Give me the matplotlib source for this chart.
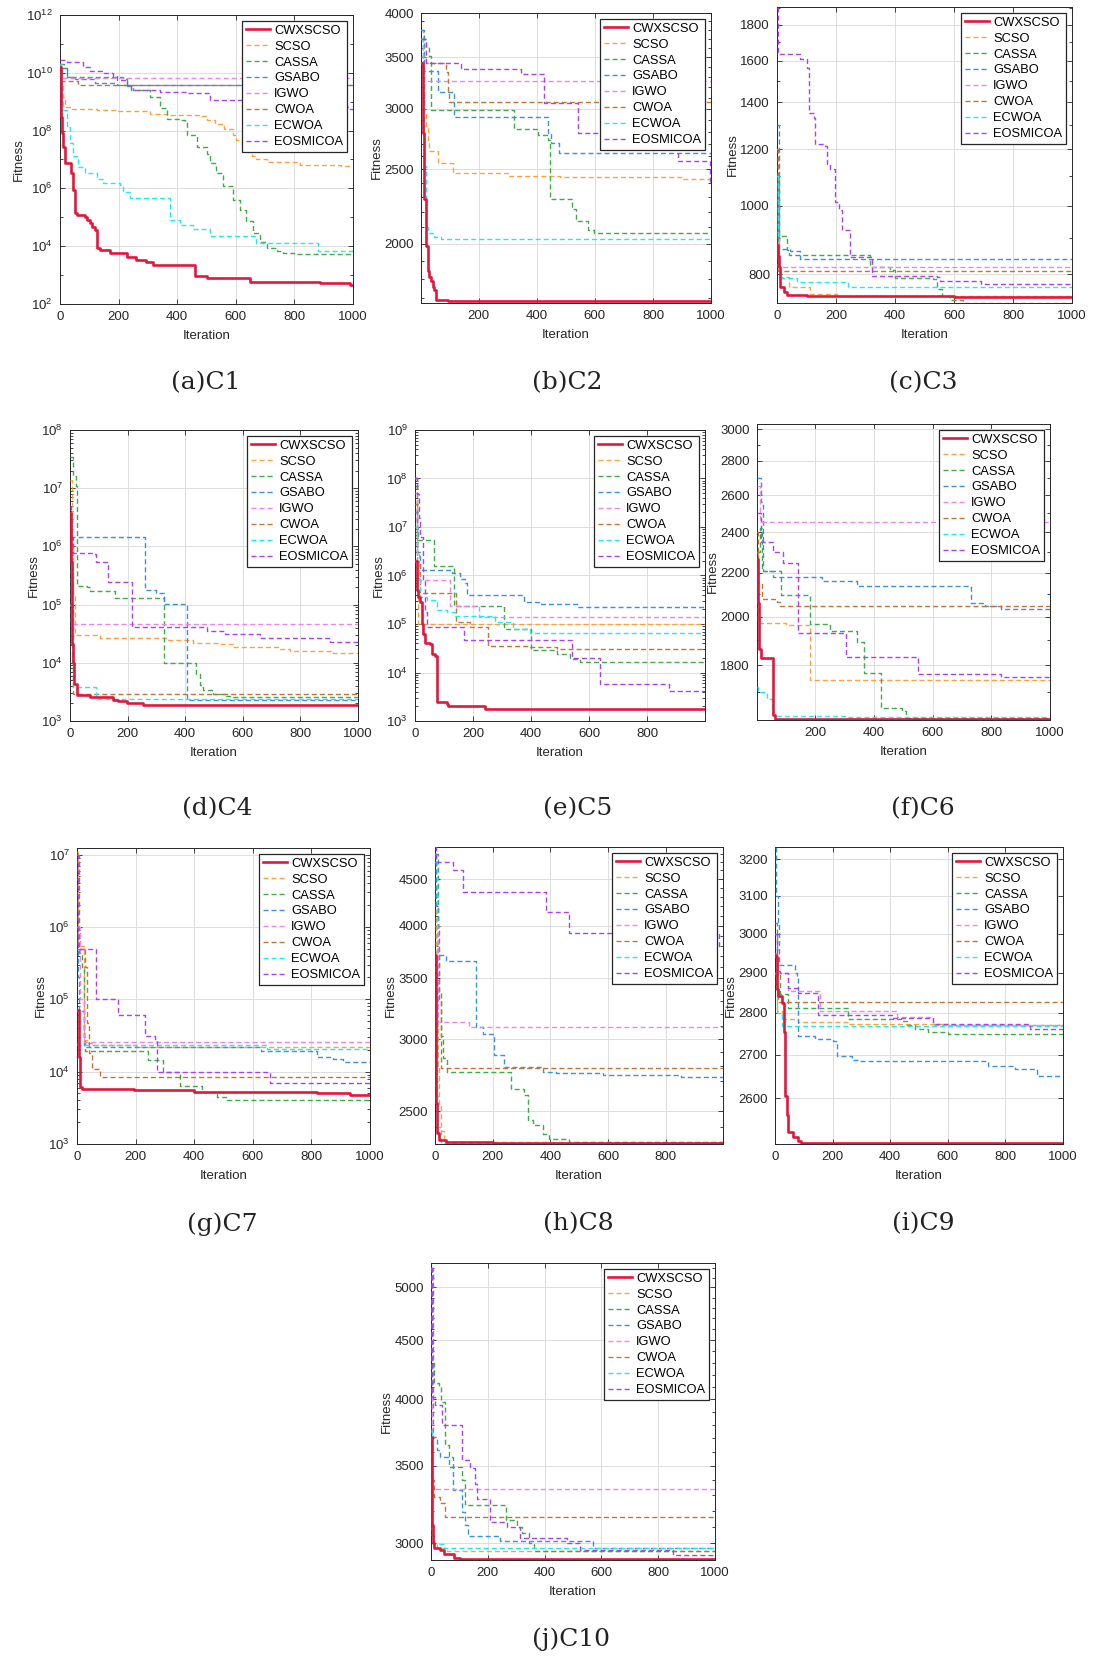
import matplotlib
matplotlib.use("Agg")
import matplotlib.pyplot as plt
from matplotlib.ticker import FixedLocator, NullFormatter, FuncFormatter

plt.rcParams['font.family'] = ['Liberation Sans', 'DejaVu Sans']
plt.rcParams['lines.scale_dashes'] = False

# ---------------- data ----------------
ALGOS = ["CWXSCSO", "SCSO", "CASSA", "GSABO", "IGWO", "CWOA", "ECWOA", "EOSMICOA"]
COLORS = ["#E2173B", "#FF9F3F", "#3DAB48", "#3A8EE6", "#EE82EE", "#C87137", "#1EEBF0", "#A641F5"]

# each series: (iteration where value starts, best fitness)
C1 = {
    "CWXSCSO": ([0, 2, 5, 8, 11, 17, 36, 45, 51, 57, 85, 91, 102, 110, 119, 125, 136, 170, 227, 261, 295, 318, 460, 500, 648, 886, 990],
                [1.6e10, 3e9, 3e8, 8e7, 2.7e7, 7.4e6, 3.3e6, 8.8e5, 1.4e5, 1.2e5, 1.05e5, 8.1e4, 6.2e4, 4.5e4, 3.6e4, 8.5e3, 7.4e3, 5.7e3, 4.3e3, 3.3e3, 2.9e3, 2.2e3, 9.3e2, 7.7e2, 5.9e2, 5.2e2, 4.6e2]),
    "SCSO": ([0, 4, 10, 18, 40, 125, 193, 307, 364, 480, 500, 530, 560, 590, 602, 620, 636, 655, 670, 705, 818, 960],
             [2e10, 4e9, 1.5e9, 6.8e8, 5.5e8, 5e8, 4.6e8, 3.8e8, 3.4e8, 3.2e8, 2.3e8, 1.7e8, 1.1e8, 7.2e7, 4.7e7, 3e7, 1.9e7, 1.3e7, 1e7, 8e6, 6.5e6, 5.8e6]),
    "CASSA": ([0, 12, 25, 215, 227, 250, 307, 340, 364, 410, 426, 432, 466, 500, 511, 534, 557, 590, 614, 636, 659, 682, 705, 739, 761, 800],
              [2e10, 1.5e10, 7.4e9, 6e9, 3.4e9, 2.6e9, 1.5e9, 6e8, 2.6e8, 2.3e8, 1.8e8, 7e7, 2.8e7, 1.6e7, 7.5e6, 3.3e6, 1.2e6, 4e5, 1.8e5, 7.2e4, 2.8e4, 1.4e4, 8.6e3, 6.6e3, 5.8e3, 5.5e3]),
    "GSABO": ([0, 23, 50, 120, 193], [1.5e10, 7.4e9, 6e9, 4.6e9, 3.9e9]),
    "IGWO": ([0, 5], [2e10, 6.5e9]),
    "CWOA": ([0, 3, 62], [1e10, 5.3e9, 3.8e9]),
    "ECWOA": ([0, 3, 6, 11, 23, 34, 45, 62, 85, 125, 148, 205, 216, 239, 377, 409, 455, 511, 670, 880],
              [2e10, 5e9, 1.5e9, 5e8, 1.4e8, 3.7e7, 1.3e7, 5.7e6, 3.3e6, 2.2e6, 1.5e6, 1.3e6, 7.8e5, 4.5e5, 8.3e4, 5.6e4, 4e4, 2.2e4, 1.3e4, 6.9e3]),
    "EOSMICOA": ([0, 23, 80, 102, 148, 182, 193, 227, 244, 341, 432, 511, 636, 990],
                 [2.8e10, 2.4e10, 1.6e10, 1.2e10, 9.6e9, 7.7e9, 5.7e9, 3.8e9, 2.6e9, 2.2e9, 2e9, 1.15e9, 6.8e8, 5.5e8]),
}
C2 = {
    "CWXSCSO": ([1, 7, 13, 19, 24, 30, 36, 42, 47, 53, 93], [3440, 2790, 2290, 1985, 1840, 1810, 1790, 1755, 1740, 1690, 1685]),
    "SCSO": ([1, 8, 13, 19, 24, 30, 59, 110, 300, 480, 900], [3800, 3300, 2970, 2850, 2710, 2640, 2550, 2470, 2450, 2440, 2430]),
    "CASSA": ([1, 19, 30, 36, 323, 403, 438, 447, 520, 535, 576, 598], [3700, 3610, 3510, 2990, 2820, 2770, 2730, 2290, 2220, 2140, 2085, 2065]),
    "GSABO": ([1, 13, 59, 116, 438, 449, 478], [3800, 3360, 3150, 2930, 2790, 2710, 2625]),
    "IGWO": ([1, 8], [3700, 3260]),
    "CWOA": ([1, 19, 88, 93, 99], [3500, 3440, 3350, 3150, 3060]),
    "ECWOA": ([1, 7, 13, 19, 24, 47, 70], [3700, 3400, 2525, 2100, 2065, 2040, 2030]),
    "EOSMICOA": ([1, 19, 139, 346, 424, 541, 790, 885, 995], [3700, 3440, 3380, 3330, 3050, 2790, 2660, 2560, 2400]),
}
C3 = {
    "CWXSCSO": ([0, 3, 6, 11, 23, 34, 101, 600], [880, 850, 820, 767, 755, 747, 745, 743]),
    "SCSO": ([0, 3, 6, 11, 39, 113, 203], [1200, 900, 820, 792, 768, 750, 745]),
    "CASSA": ([0, 6, 34, 39, 316, 383, 400, 530, 541, 558, 586, 631], [1100, 905, 867, 851, 820, 812, 790, 788, 764, 745, 735, 730]),
    "GSABO": ([0, 6, 45, 79], [1300, 870, 862, 842]),
    "IGWO": ([0, 3], [1100, 820]),
    "CWOA": ([0, 3], [1200, 809]),
    "ECWOA": ([0, 3, 6, 11, 68, 242], [1100, 900, 812, 790, 780, 767]),
    "EOSMICOA": ([0, 3, 79, 101, 107, 124, 130, 163, 169, 180, 197, 209, 220, 246, 321, 541, 552, 693],
                 [1900, 1636, 1610, 1563, 1350, 1330, 1220, 1215, 1143, 1125, 1012, 985, 923, 846, 797, 794, 784, 776]),
}
C4 = {
    "CWXSCSO": ([0, 3, 6, 9, 14, 23, 69, 150, 168, 197, 254], [3.7e6, 5.5e5, 2.1e4, 1e4, 4.4e3, 2.8e3, 2.6e3, 2.3e3, 2.2e3, 2.0e3, 1.9e3]),
    "SCSO": ([0, 6, 12, 17, 104, 335, 428, 520, 566, 728, 763, 913], [1.4e7, 1e6, 1.4e5, 3e4, 2.7e4, 2.5e4, 2.2e4, 2.1e4, 1.9e4, 1.75e4, 1.6e4, 1.45e4]),
    "CASSA": ([0, 12, 21, 25, 58, 69, 156, 327, 439, 451, 462, 497, 543, 566],
              [3.5e7, 1.6e7, 1.1e7, 2.1e5, 2e5, 1.7e5, 1.32e5, 1e4, 6.5e3, 4.1e3, 3.4e3, 2.9e3, 2.65e3, 2.55e3]),
    "GSABO": ([0, 4, 262, 300, 327, 405], [2e6, 1.46e6, 1.77e5, 1.6e5, 1.04e5, 2.3e3]),
    "IGWO": ([0, 2], [1e6, 4.7e4]),
    "CWOA": ([0, 10], [1e5, 2.95e3]),
    "ECWOA": ([0, 6, 9, 92], [1e5, 1e4, 3.85e3, 2.35e3]),
    "EOSMICOA": ([0, 5, 9, 81, 92, 133, 214, 474, 538, 659, 902], [5e6, 1.4e6, 7.6e5, 7.5e5, 5.4e5, 2.4e5, 4.1e4, 3.5e4, 3.1e4, 2.7e4, 2.3e4]),
}
C5 = {
    "CWXSCSO": ([0, 6, 12, 17, 23, 29, 35, 52, 58, 69, 77, 109, 115, 242],
                [2e6, 5e5, 3.6e5, 2.9e5, 1e5, 6.3e4, 4.1e4, 3.9e4, 2.45e4, 2.2e4, 2.46e3, 2.2e3, 2.0e3, 1.8e3]),
    "SCSO": ([0, 6, 12], [1e8, 5e5, 9.8e4]),
    "CASSA": ([0, 6, 12, 67, 136, 305, 399, 489, 535, 570], [1e8, 1e7, 5.4e6, 1.6e6, 2.4e5, 8e4, 2.9e4, 2.4e4, 1.9e4, 1.65e4]),
    "GSABO": ([0, 6, 17, 127, 155, 173, 178, 374, 432, 558], [2e7, 3e6, 1.28e6, 1.1e6, 8.6e5, 6.9e5, 3.9e5, 2.9e5, 2.6e5, 2.25e5]),
    "IGWO": ([0, 8, 15, 121, 219], [5e7, 3e6, 8e5, 2.4e5, 1.4e5]),
    "CWOA": ([0, 8, 17, 142, 190, 253, 397, 489], [3e7, 2e6, 4.4e5, 1.1e5, 8.7e4, 3.6e4, 3.3e4, 3.0e4]),
    "ECWOA": ([0, 6, 17, 40, 75, 109, 138, 276, 339, 397], [1e7, 1e6, 3.6e5, 3.2e5, 1.9e5, 1.8e5, 1.44e5, 1.1e5, 8e4, 6.5e4]),
    "EOSMICOA": ([0, 8, 15, 17, 29, 35, 40, 170, 541, 639, 875], [1e8, 4.9e7, 1.5e7, 6.3e6, 8e5, 1.8e5, 8.7e4, 4.6e4, 2e4, 5.7e3, 4.1e3]),
}
C6 = {
    "CWXSCSO": ([1, 6, 9, 14, 55, 63], [2265, 2062, 1866, 1830, 1618, 1603]),
    "SCSO": ([1, 6, 100, 181], [2300, 1974, 1965, 1745]),
    "CASSA": ([1, 11, 17, 83, 183, 251, 343, 366, 423, 497, 509], [2300, 2420, 2208, 2094, 1967, 1939, 1894, 1771, 1642, 1630, 1607]),
    "GSABO": ([1, 14, 23, 57, 223, 343, 731, 777, 834], [2700, 2560, 2208, 2177, 2160, 2137, 2058, 2045, 2034]),
    "IGWO": ([1, 11], [2650, 2453]),
    "CWOA": ([1, 6, 17, 69, 80], [2400, 2150, 2077, 2066, 2045]),
    "ECWOA": ([1, 6, 34, 51, 69, 300], [1720, 1700, 1676, 1620, 1614, 1610]),
    "EOSMICOA": ([1, 14, 57, 89, 141, 306, 549, 834], [2500, 2350, 2298, 2244, 1931, 1834, 1769, 1756]),
}
C7 = {
    "CWXSCSO": ([0, 6, 9, 17, 193, 307, 398, 648, 818, 932], [7.2e4, 1.6e4, 6.2e3, 5.7e3, 5.6e3, 5.5e3, 5.3e3, 5.2e3, 5.0e3, 4.8e3]),
    "SCSO": ([0, 3, 23, 34, 57, 200], [1.1e7, 5.4e5, 2.75e4, 2.5e4, 2.3e4, 2.2e4]),
    "CASSA": ([0, 6, 17, 23, 28, 244, 295, 352, 426, 477, 511], [1e7, 4.4e5, 2.6e5, 3e4, 1.9e4, 1.46e4, 1.0e4, 6.4e3, 5.3e3, 4.5e3, 4.1e3]),
    "GSABO": ([0, 2, 6, 23, 628, 818, 875, 909], [1e6, 2e5, 6.8e4, 2.2e4, 1.94e4, 1.58e4, 1.5e4, 1.35e4]),
    "IGWO": ([0, 11, 23], [1e6, 1e5, 2.53e4]),
    "CWOA": ([0, 17, 28, 34, 40, 51, 80], [5e5, 4.9e5, 2.8e5, 4.7e4, 1.8e4, 1.1e4, 8.5e3]),
    "ECWOA": ([0, 6, 648], [2.4e4, 2.3e4, 2.05e4]),
    "EOSMICOA": ([0, 3, 66, 139, 231, 267, 273, 657], [1e7, 5e5, 1e5, 6e4, 3.1e4, 2.8e4, 1e4, 6.9e3]),
}
C8 = {
    "CWXSCSO": ([0, 3, 7, 15, 38, 200], [3713, 2550, 2364, 2325, 2310, 2306]),
    "SCSO": ([0, 3, 9, 15, 21, 32, 200], [4800, 3500, 2800, 2540, 2375, 2312, 2309]),
    "CASSA": ([0, 9, 15, 21, 27, 41, 264, 310, 322, 339, 374, 397, 466],
              [4800, 3760, 3380, 3020, 2860, 2757, 2643, 2605, 2446, 2415, 2360, 2329, 2312]),
    "GSABO": ([0, 3, 9, 38, 142, 166, 206, 241, 374, 420, 582, 854],
              [4800, 4200, 3713, 3660, 3097, 3040, 2883, 2792, 2760, 2752, 2740, 2724]),
    "IGWO": ([0, 9, 119], [4000, 3136, 3097]),
    "CWOA": ([0, 15, 21], [4000, 3300, 2787]),
    "ECWOA": ([0, 7, 21], [4700, 2400, 2307]),
    "EOSMICOA": ([0, 3, 61, 96, 385, 466, 985], [4880, 4700, 4604, 4357, 4142, 3928, 3798]),
}
C9 = {
    "CWXSCSO": ([0, 3, 6, 9, 23, 31, 35, 40, 46, 64, 81, 92], [2945, 2940, 2858, 2842, 2825, 2753, 2606, 2562, 2525, 2514, 2505, 2501]),
    "SCSO": ([0, 6, 23, 81, 254, 601], [2950, 2805, 2786, 2777, 2773, 2770]),
    "CASSA": ([0, 6, 17, 46, 254, 439, 457, 486, 532, 601], [3027, 2900, 2846, 2811, 2785, 2780, 2770, 2762, 2754, 2750]),
    "GSABO": ([0, 3, 9, 15, 69, 75, 81, 139, 202, 214, 266, 289, 740, 832, 908],
              [3230, 3100, 3027, 2920, 2900, 2888, 2745, 2738, 2733, 2698, 2688, 2686, 2673, 2668, 2651]),
    "IGWO": ([0, 6, 46, 156, 422, 549], [3000, 2900, 2855, 2805, 2790, 2772]),
    "CWOA": ([0, 3, 12], [2900, 2860, 2827]),
    "ECWOA": ([0, 6, 23], [2900, 2800, 2769]),
    "EOSMICOA": ([0, 6, 17, 46, 81, 150, 405, 549, 884], [3000, 2905, 2900, 2862, 2850, 2795, 2789, 2773, 2761]),
}
C10 = {
    "CWXSCSO": ([0, 4, 7, 12, 33, 45, 80, 103], [3709, 3110, 3000, 2970, 2960, 2936, 2912, 2906]),
    "SCSO": ([0, 4, 9, 21, 56], [5200, 3050, 3000, 2970, 2955]),
    "CASSA": ([0, 4, 12, 27, 35, 50, 62, 109, 121, 264, 302, 320, 344, 361],
              [5200, 4300, 4134, 4105, 3980, 3647, 3493, 3405, 3236, 3139, 3100, 3060, 3000, 2950]),
    "GSABO": ([0, 7, 21, 33, 77, 109, 121, 132, 244, 572], [5200, 3710, 3611, 3563, 3334, 3193, 3112, 3040, 3010, 2970]),
    "IGWO": ([0, 5], [5200, 3339]),
    "CWOA": ([0, 9, 33, 50], [3400, 3290, 3250, 3158]),
    "ECWOA": ([0, 4, 12, 45], [3750, 3050, 2995, 2968]),
    "EOSMICOA": ([0, 4, 15, 39, 109, 138, 156, 162, 209, 267, 314, 478, 525, 853],
                 [5200, 4020, 3955, 3796, 3544, 3482, 3377, 3274, 3131, 3100, 3030, 3000, 2960, 2930]),
}

CAPTIONS = ["(a)C1", "(b)C2", "(c)C3", "(d)C4", "(e)C5", "(f)C6", "(g)C7", "(h)C8", "(i)C9", "(j)C10"]
YTICKS = [
    [1e2, 1e4, 1e6, 1e8, 1e10, 1e12],
    [2000, 2500, 3000, 3500, 4000],
    [800, 1000, 1200, 1400, 1600, 1800],
    [1e3, 1e4, 1e5, 1e6, 1e7, 1e8],
    [1e3, 1e4, 1e5, 1e6, 1e7, 1e8, 1e9],
    [1800, 2000, 2200, 2400, 2600, 2800, 3000],
    [1e3, 1e4, 1e5, 1e6, 1e7],
    [2500, 3000, 3500, 4000, 4500],
    [2600, 2700, 2800, 2900, 3000, 3100, 3200],
    [3000, 3500, 4000, 4500, 5000],
]
XTICKS = [
    [0, 200, 400, 600, 800, 1000],
    [200, 400, 600, 800, 1000],
    [0, 200, 400, 600, 800, 1000],
    [0, 200, 400, 600, 800, 1000],
    [0, 200, 400, 600, 800],
    [200, 400, 600, 800, 1000],
    [0, 200, 400, 600, 800, 1000],
    [0, 200, 400, 600, 800],
    [0, 200, 400, 600, 800, 1000],
    [0, 200, 400, 600, 800, 1000],
]

# ---------------- layout (pixels in 1108x1657 figure) ----------------
W, H = 1108, 1657
PANELS = [
    # data, rect(l,t,r,b), xlim, ylim, decade-style, caption xy
    (C1, (60, 15, 353, 304), (0, 1000), (1e2, 1e12), True, (206, 383)),
    (C2, (421, 13, 711, 303), (1, 1000), (1673, 4000), False, (567, 383)),
    (C3, (777, 7, 1072, 303), (0, 1000), (729, 1906), False, (923, 383)),
    (C4, (70, 430, 358, 721), (0, 1000), (1e3, 1e8), True, (217, 809)),
    (C5, (415, 430, 705, 721), (0, 999), (1e3, 1e9), True, (578, 809)),
    (C6, (757, 424, 1050, 720), (1, 1000), (1600, 3033), False, (923, 809)),
    (C7, (77, 848, 370, 1144), (0, 1000), (1e3, 1.23e7), True, (222, 1224)),
    (C8, (435, 847, 723, 1144), (0, 999), (2300, 4880), False, (578, 1224)),
    (C9, (775, 847, 1063, 1144), (0, 1000), (2499, 3234), False, (923, 1224)),
    (C10, (431, 1263, 715, 1560), (0, 1000), (2900, 5250), False, (571, 1639)),
]

fig = plt.figure(figsize=(W / 100, H / 100), dpi=100)
fig.patch.set_facecolor("white")

DARK = "#262626"

for i, (data, (l, t, r, b), xlim, ylim, decades, cap) in enumerate(PANELS):
    ax = fig.add_axes([l / W, 1 - b / H, (r - l) / W, (b - t) / H])
    ax.set_yscale("log")
    handles = []
    for k, name in enumerate(ALGOS):
        xs, ys = data[name]
        xs = list(xs) + [xlim[1]]
        ys = list(ys) + [ys[-1]]
        if k == 0:
            ln, = ax.step(xs, ys, where="post", color=COLORS[k], lw=1.9, zorder=5, label=name)
        else:
            ln, = ax.step(xs, ys, where="post", color=COLORS[k], lw=1.0, dashes=(3.6, 2.2),
                          zorder=3, label=name)
        handles.append(ln)
    ax.set_xlim(*xlim)
    ax.set_ylim(*ylim)
    ax.set_xticks(XTICKS[i])
    ax.set_yticks(YTICKS[i])
    if decades:
        majors = YTICKS[i]
        if majors[1] / majors[0] > 10:
            minors = [m * 10 for m in majors[:-1]]
        else:
            minors = []
            for m in majors[:-1]:
                minors += [m * s for s in range(2, 10)]
        ax.yaxis.set_minor_locator(FixedLocator(minors))
    else:
        ax.yaxis.set_major_formatter(FuncFormatter(lambda v, p: f"{v:.0f}"))
        lo = int(ylim[0] // 100 + 1) * 100
        ax.yaxis.set_minor_locator(FixedLocator(list(range(lo, int(ylim[1]) + 1, 100))))
    ax.yaxis.set_minor_formatter(NullFormatter())
    ax.xaxis.set_minor_locator(FixedLocator([]))
    ax.grid(True, which="major", color="#DDDDDD", lw=0.7)
    ax.set_axisbelow(True)
    ax.tick_params(which="both", direction="in", top=True, right=True, colors=DARK,
                   labelsize=9.5, width=0.6, pad=5)
    ax.tick_params(which="major", length=3.5)
    ax.tick_params(which="minor", length=2)
    for s in ax.spines.values():
        s.set_color(DARK)
        s.set_linewidth(0.7)
    ax.set_xlabel("Iteration", fontsize=9.5, color=DARK, labelpad=5)
    ax.set_ylabel("Fitness", fontsize=9.5, color=DARK, labelpad=1)
    leg = ax.legend(handles=handles, loc="upper right", fontsize=9.3, handlelength=1.9,
                    handletextpad=0.3, labelspacing=0.3, borderpad=0.3, borderaxespad=0.45,
                    fancybox=False, framealpha=1)
    leg.get_frame().set_edgecolor(DARK)
    leg.get_frame().set_linewidth(0.9)
    leg.set_zorder(10)
    fig.text(cap[0] / W, 1 - cap[1] / H, CAPTIONS[i], ha="center", va="center",
             fontsize=18, family="DejaVu Serif", color="#222222")

fig.savefig("out.png", dpi=100)
